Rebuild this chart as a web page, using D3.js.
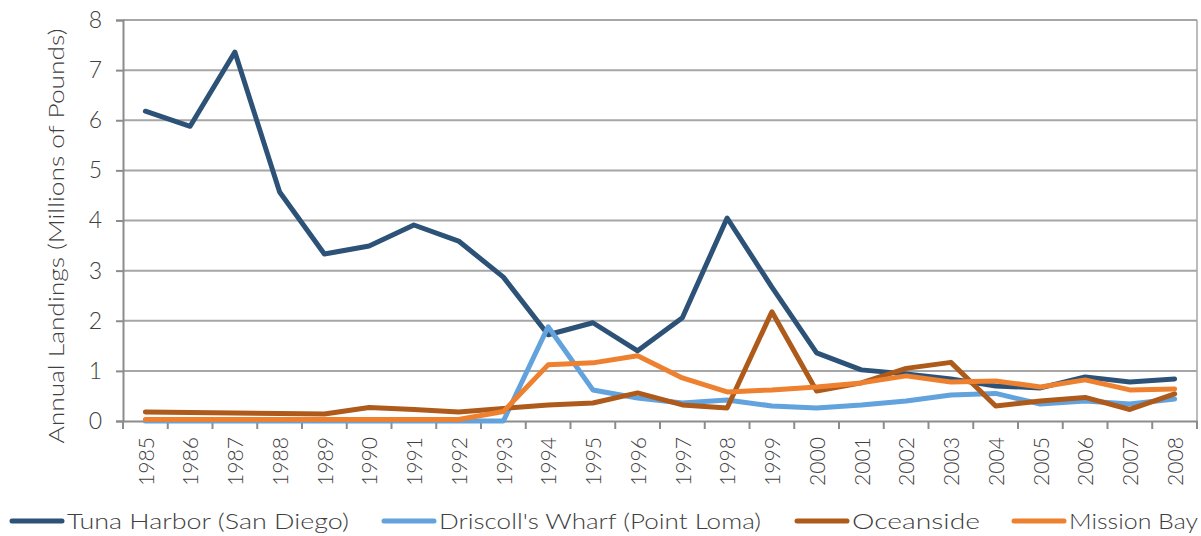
<!DOCTYPE html>
<html>
<head>
<meta charset="utf-8">
<script src="https://cdn.jsdelivr.net/npm/d3@7"></script>
<style>
  body { margin: 0; background: #fff; }
  text { font-family: "Lato", "DejaVu Sans", sans-serif; font-weight: 300; fill: #404040; }
</style>
</head>
<body>
<div id="app"></div>
<script>
// data
let years = d3.range(1985, 2009).map(String)
let tuna = [6.18, 5.88, 7.36, 4.57, 3.33, 3.49, 3.91, 3.59, 2.87, 1.72, 1.96, 1.40, 2.06, 4.05, 2.67, 1.36, 1.02, 0.94, 0.84, 0.70, 0.66, 0.88, 0.78, 0.84]
let driscoll = [0, 0, 0, 0, 0, 0, 0, 0, 0, 1.88, 0.62, 0.46, 0.36, 0.42, 0.30, 0.26, 0.32, 0.40, 0.52, 0.55, 0.34, 0.40, 0.34, 0.44]
let oceanside = [0.18, 0.17, 0.16, 0.15, 0.14, 0.27, 0.23, 0.18, 0.25, 0.32, 0.36, 0.56, 0.32, 0.26, 2.18, 0.60, 0.76, 1.05, 1.17, 0.30, 0.40, 0.47, 0.23, 0.54]
let missionBay = [0.03, 0.03, 0.03, 0.03, 0.03, 0.03, 0.03, 0.03, 0.19, 1.12, 1.16, 1.30, 0.86, 0.58, 0.62, 0.68, 0.76, 0.90, 0.78, 0.80, 0.68, 0.82, 0.62, 0.64]
let yTicks = [0, 1, 2, 3, 4, 5, 6, 7, 8]

let series = [
    {name: "Tuna Harbor (San Diego)", values: tuna, color: "#2d5278"},
    {name: "Driscoll's Wharf (Point Loma)", values: driscoll, color: "#62a2dd"},
    {name: "Oceanside", values: oceanside, color: "#ad5a1b"},
    {name: "Mission Bay", values: missionBay, color: "#ed8130"}
]

let width = 1201, height = 536
let svg = d3.select("#app").append("svg")
    .attr("width", width)
    .attr("height", height)

let plotLeft = 123, plotRight = 1197, plotTop = 20, plotBottom = 421

let x = d3.scaleBand().domain(years).range([plotLeft, plotRight])
let y = d3.scaleLinear().domain([0, 8]).range([plotBottom, plotTop])

// gridlines
svg.append("g")
    .selectAll("line")
    .data(yTicks.filter(d => d > 0))
    .enter().append("line")
    .attr("x1", plotLeft).attr("x2", plotRight)
    .attr("y1", d => y(d)).attr("y2", d => y(d))
    .attr("stroke", "#a6a6a6")
    .attr("stroke-width", 2)

// right border line
svg.append("line")
    .attr("x1", plotRight).attr("x2", plotRight)
    .attr("y1", plotTop).attr("y2", plotBottom)
    .attr("stroke", "#a6a6a6").attr("stroke-width", 1.5)

// y axis
let yAxis = svg.append("g")
    .attr("transform", `translate(${plotLeft},0)`)
    .call(d3.axisLeft(y).tickValues(yTicks).tickSize(7).tickPadding(14))
yAxis.select(".domain").attr("stroke", "#8c8c8c").attr("stroke-width", 2)
yAxis.selectAll(".tick line").attr("stroke", "#8c8c8c").attr("stroke-width", 2)
yAxis.selectAll(".tick text")
    .style("font-size", "23px")
    .attr("fill", "#404040")

// x axis
let xAxis = svg.append("g")
    .attr("transform", `translate(0,${plotBottom})`)
    .call(d3.axisBottom(x).tickSize(0).tickPadding(0))
xAxis.select(".domain").attr("stroke", "#8c8c8c").attr("stroke-width", 2)
xAxis.selectAll(".tick text")
    .style("font-size", "21px")
    .attr("fill", "#404040")
    .attr("text-anchor", "end")
    .attr("transform", "rotate(-90)")
    .attr("x", -16)
    .attr("y", 1)
    .attr("dy", "0.35em")
    .attr("textLength", 49)
    .attr("lengthAdjust", "spacingAndGlyphs")

// x ticks at category boundaries
let edges = years.map(d => x(d)).concat([plotRight])
xAxis.selectAll(".edge")
    .data(edges)
    .enter().append("line")
    .attr("class", "edge")
    .attr("x1", d => d).attr("x2", d => d)
    .attr("y1", 0).attr("y2", 8)
    .attr("stroke", "#8c8c8c").attr("stroke-width", 2)

// y axis title
svg.append("text")
    .attr("transform", "translate(64,236) rotate(-90)")
    .attr("text-anchor", "middle")
    .style("font-size", "22px")
    .attr("textLength", 415)
    .attr("lengthAdjust", "spacingAndGlyphs")
    .text("Annual Landings (Millions of Pounds)")

// lines
let line = d3.line()
    .x((d, i) => x(years[i]) + x.bandwidth() / 2)
    .y(d => y(d))

svg.append("g")
    .selectAll("path")
    .data(series)
    .enter().append("path")
    .attr("d", d => line(d.values))
    .attr("fill", "none")
    .attr("stroke", d => d.color)
    .attr("stroke-width", 5)
    .attr("stroke-linejoin", "round")
    .attr("stroke-linecap", "round")

// legend
let legendX = [10, 382, 795, 1012]
let legendTextLen = [282, 322, 128, 129]
let legend = svg.append("g")
    .selectAll("g")
    .data(series)
    .enter().append("g")
    .attr("transform", (d, i) => `translate(${legendX[i]},521)`)

legend.append("line")
    .attr("x1", 2).attr("x2", 52)
    .attr("stroke", d => d.color)
    .attr("stroke-width", 5)
    .attr("stroke-linecap", "round")

legend.append("text")
    .attr("x", 57)
    .attr("dy", "0.36em")
    .style("font-size", "22px")
    .attr("textLength", (d, i) => legendTextLen[i])
    .attr("lengthAdjust", "spacingAndGlyphs")
    .text(d => d.name)
</script>
</body>
</html>
